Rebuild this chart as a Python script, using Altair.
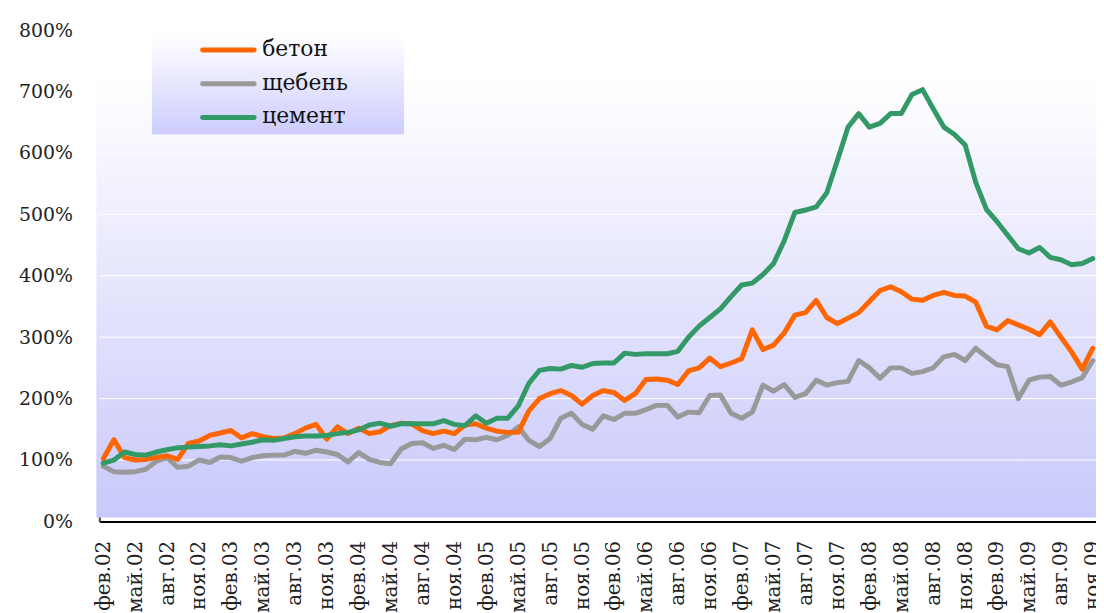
import altair as alt
import pandas as pd

# ---------------- data ----------------
series_names = ["бетон", "щебень", "цемент"]
series_colors = ["#ff6600", "#999999", "#339966"]

tick_labels = ["фев.02", "май.02", "авг.02", "ноя.02", "фев.03", "май.03", "авг.03", "ноя.03",
               "фев.04", "май.04", "авг.04", "ноя.04", "фев.05", "май.05", "авг.05", "ноя.05",
               "фев.06", "май.06", "авг.06", "ноя.06", "фев.07", "май.07", "авг.07", "ноя.07",
               "фев.08", "май.08", "авг.08", "ноя.08", "фев.09", "май.09", "авг.09", "ноя.09"]

y_ticks = [0, 100, 200, 300, 400, 500, 600, 700, 800]

# monthly values, фев.02 ... ноя.09 (94 months), in %
beton = [102, 133, 104, 100, 101, 104, 107, 101, 127, 131,
         140, 144, 148, 136, 143, 138, 135, 136, 143, 152,
         158, 134, 154, 143, 152, 143, 146, 156, 160, 159,
         148, 143, 147, 143, 157, 159, 152, 147, 145, 145,
         180, 200, 208, 213, 205, 191, 205, 213, 210, 197,
         208, 231, 232, 230, 223, 245, 250, 266, 252, 258,
         265, 312, 280, 287, 307, 336, 340, 360, 332, 322,
         331, 340, 358, 376, 382, 374, 362, 360, 368, 373,
         368, 367, 357, 318, 312, 327, 320, 313, 304, 325,
         300, 276, 248, 282]

shcheben = [90, 81, 80, 81, 85, 98, 104, 88, 90, 100,
            96, 105, 104, 98, 104, 107, 108, 108, 114, 111,
            116, 113, 109, 97, 112, 101, 96, 94, 118, 127,
            128, 119, 124, 117, 134, 133, 137, 133, 140, 154,
            132, 122, 135, 168, 176, 158, 150, 172, 166, 176,
            176, 182, 189, 189, 170, 178, 177, 205, 206, 176,
            168, 178, 222, 212, 223, 202, 208, 230, 222, 226,
            228, 262, 250, 233, 250, 250, 241, 244, 250, 268,
            272, 262, 282, 268, 255, 252, 200, 230, 235, 236,
            222, 227, 234, 262]

cement = [95, 100, 113, 109, 108, 113, 117, 120, 121, 122,
          123, 125, 123, 126, 129, 133, 132, 135, 138, 139,
          139, 140, 143, 145, 149, 157, 160, 155, 159, 159,
          159, 159, 164, 158, 156, 172, 160, 168, 168, 188,
          225, 246, 249, 248, 254, 251, 257, 258, 258, 274,
          272, 273, 273, 273, 277, 300, 318, 332, 346, 366,
          385, 388, 402, 420, 457, 503, 507, 512, 535, 588,
          642, 664, 642, 648, 664, 664, 695, 703, 672, 642,
          630, 613, 552, 508, 488, 466, 444, 437, 446, 430,
          426, 418, 420, 428]

series_values = [beton, shcheben, cement]

rows = []
for name, vals in zip(series_names, series_values):
    for i, v in enumerate(vals):
        rows.append({"i": i, "v": v, "series": name})
df = pd.DataFrame(rows)

# ---------------- layout ----------------
W, H = 1004, 495
SERIF = "DejaVu Serif"

x_scale = alt.Scale(domain=[-0.37, 93.3], nice=False, zero=False)
y_scale = alt.Scale(domain=[0, 800], nice=False)

label_expr = "[" + ",".join("'" + t + "'" for t in tick_labels) + "][round(datum.value/3)]"

x_axis = alt.Axis(values=list(range(0, 94, 3)), labelExpr=label_expr, labelAngle=270,
                  labelAlign="right", labelBaseline="middle", labelPadding=19,
                  ticks=False, grid=False, domainColor="#000000", domainWidth=2,
                  labelFont=SERIF, labelFontSize=20, labelColor="#222222",
                  labelOverlap=False, labelBound=False, labelFlush=False, title=None)
y_axis = alt.Axis(values=y_ticks, labelExpr="datum.value + '%'", ticks=False, grid=False,
                  domainColor="#444444", domainWidth=2, labelPadding=27,
                  labelFont=SERIF, labelFontSize=19, labelColor="#222222", title=None)

bg_gradient = {"gradient": "linear", "x1": 0, "y1": 0, "x2": 0, "y2": 1,
               "stops": [{"offset": 0, "color": "#ffffff"},
                         {"offset": 0.1, "color": "#ffffff"},
                         {"offset": 1, "color": "#c9c9fb"}]}
legend_gradient = {"gradient": "linear", "x1": 0, "y1": 0, "x2": 0, "y2": 1,
                   "stops": [{"offset": 0, "color": "#ffffff"},
                             {"offset": 1, "color": "#ccccff"}]}

one = pd.DataFrame({"a": [0]})

background = alt.Chart(one).mark_rect(fill=bg_gradient).encode(
    x=alt.value(-3), x2=alt.value(W), y=alt.value(0), y2=alt.value(H - 4))

grid = alt.Chart(pd.DataFrame({"v": y_ticks[1:]})).mark_rule(color="#ffffff", strokeWidth=1).encode(
    y=alt.Y("v:Q", scale=y_scale, axis=y_axis))

line_layers = []
for idx in [1, 0, 2]:
    name, col = series_names[idx], series_colors[idx]
    line_layers.append(
        alt.Chart(df).transform_filter(alt.datum.series == name).mark_line(
            color=col, strokeWidth=5, strokeCap="round", strokeJoin="round").encode(
            x=alt.X("i:Q", scale=x_scale, axis=x_axis),
            y=alt.Y("v:Q", scale=y_scale, axis=y_axis)))

legend_box = alt.Chart(one).mark_rect(fill=legend_gradient).encode(
    x=alt.value(53), x2=alt.value(307), y=alt.value(6), y2=alt.value(105))

legend_layers = [legend_box]
row_y = [20, 54, 88]
for name, col, ry in zip(series_names, series_colors, row_y):
    legend_layers.append(alt.Chart(one).mark_rule(color=col, strokeWidth=5, strokeCap="round").encode(
        x=alt.value(104), x2=alt.value(156), y=alt.value(ry)))
    legend_layers.append(alt.Chart(one).mark_text(
        text=name, font=SERIF, fontSize=22, color="#111111", align="left", baseline="middle").encode(
        x=alt.value(164), y=alt.value(ry - 1)))

chart = alt.layer(background, grid, *line_layers, *legend_layers).properties(
    width=W, height=H,
    autosize=alt.AutoSizeParams(type="none"),
    padding={"left": 92, "top": 20, "right": 0, "bottom": 90},
).configure_view(stroke=None).configure(background="#ffffff")

chart.save("out.html", embed_options={"renderer": "svg", "actions": False})
